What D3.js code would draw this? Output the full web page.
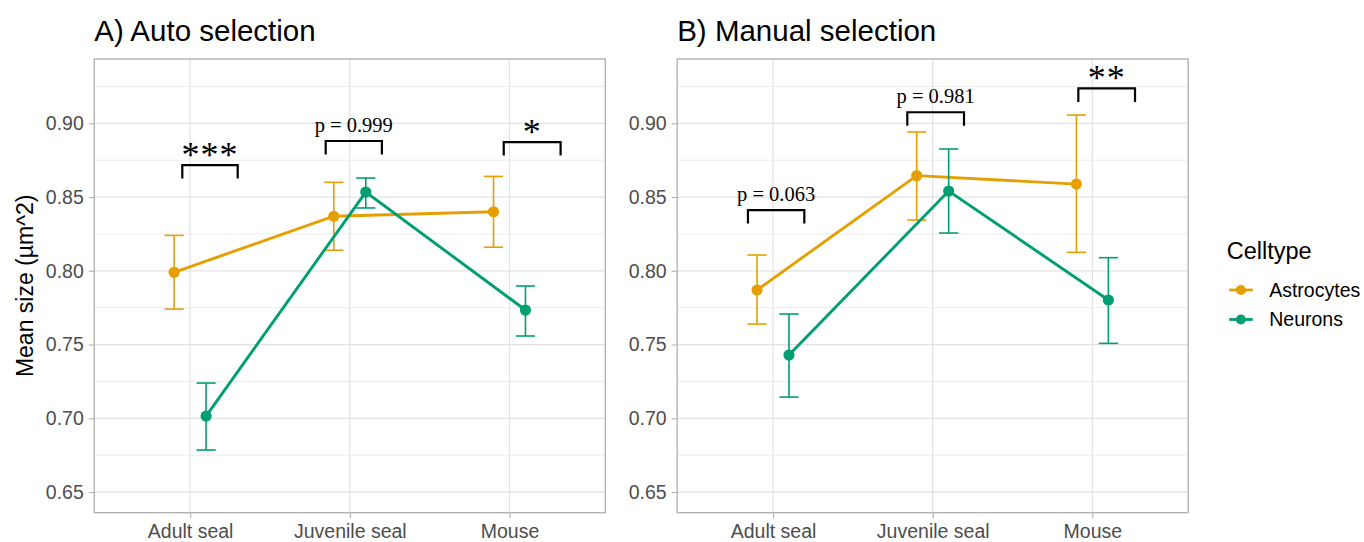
<!DOCTYPE html>
<html>
<head>
<meta charset="utf-8">
<script src="https://cdn.jsdelivr.net/npm/d3@7"></script>
<style>
  body { margin: 0; background: #fff; }
  svg text { font-family: "Liberation Sans", Arial, sans-serif; }
</style>
</head>
<body>
<div id="chart"></div>
<script>
const width = 1364;
const height = 542;

// data
const categories = ["Adult seal", "Juvenile seal", "Mouse"];
const cellTypes = ["Astrocytes", "Neurons"];
const yTicks = [0.65, 0.7, 0.75, 0.8, 0.85, 0.9];
const yMinorTicks = [0.675, 0.725, 0.775, 0.825, 0.875, 0.925];

const autoAstroMean = [0.799, 0.837, 0.840];
const autoAstroLow = [0.774, 0.814, 0.816];
const autoAstroHigh = [0.824, 0.860, 0.864];
const autoNeuronMean = [0.7015, 0.8534, 0.7734];
const autoNeuronLow = [0.6785, 0.8426, 0.7558];
const autoNeuronHigh = [0.7239, 0.8629, 0.7897];

const manualAstroMean = [0.787, 0.8645, 0.8588];
const manualAstroLow = [0.7639, 0.8344, 0.8125];
const manualAstroHigh = [0.8107, 0.8941, 0.9056];
const manualNeuronMean = [0.7429, 0.8541, 0.7802];
const manualNeuronLow = [0.7144, 0.8256, 0.7508];
const manualNeuronHigh = [0.7707, 0.8826, 0.8089];

const autoBracketStart = [0.951, 1.849, 2.964];
const autoBracketEnd = [1.298, 2.201, 3.32];
const autoBracketY = [0.8717, 0.888, 0.8873];
const autoBracketLabels = ["***", "p = 0.999", "*"];

const manualBracketStart = [0.843, 1.841, 2.912];
const manualBracketEnd = [1.196, 2.196, 3.267];
const manualBracketY = [0.8412, 0.9075, 0.9237];
const manualBracketLabels = ["p = 0.063", "p = 0.981", "**"];

const colors = d3.scaleOrdinal().domain(cellTypes).range(["#E69F00", "#009E73"]);

const svg = d3
  .select("#chart")
  .append("svg")
  .attr("width", width)
  .attr("height", height);

const y = d3.scaleLinear().domain([0.636, 0.9436]).range([512.7, 59]);

function drawPanel(left, title, series, brackets) {
  const x = d3.scaleLinear().domain([0.4, 3.6]).range([left, left + 511]);
  const g = svg.append("g");

  // grid
  g.selectAll(".minor")
    .data(yMinorTicks)
    .enter()
    .append("line")
    .attr("x1", x(0.4))
    .attr("x2", x(3.6))
    .attr("y1", (d) => y(d))
    .attr("y2", (d) => y(d))
    .attr("stroke", "#ececec")
    .attr("stroke-width", 1);

  g.selectAll(".major")
    .data(yTicks)
    .enter()
    .append("line")
    .attr("x1", x(0.4))
    .attr("x2", x(3.6))
    .attr("y1", (d) => y(d))
    .attr("y2", (d) => y(d))
    .attr("stroke", "#e2e2e2")
    .attr("stroke-width", 1.2);

  g.selectAll(".vgrid")
    .data(categories)
    .enter()
    .append("line")
    .attr("x1", (d, i) => x(i + 1))
    .attr("x2", (d, i) => x(i + 1))
    .attr("y1", y.range()[0])
    .attr("y2", y.range()[1])
    .attr("stroke", "#e2e2e2")
    .attr("stroke-width", 1.2);

  // axes
  const yAxis = g
    .append("g")
    .attr("transform", `translate(${x(0.4)},0)`)
    .call(d3.axisLeft(y).tickValues(yTicks).tickFormat(d3.format(".2f")).tickSize(5.5).tickPadding(5));
  const xAxis = g
    .append("g")
    .attr("transform", `translate(0,${y.range()[0]})`)
    .call(
      d3.axisBottom(x)
        .tickValues([1, 2, 3])
        .tickFormat((d) => categories[d - 1])
        .tickSize(5.5)
        .tickPadding(6)
    );
  [yAxis, xAxis].forEach((a) => {
    a.select(".domain").remove();
    a.selectAll(".tick line").attr("stroke", "#b3b3b3").attr("stroke-width", 1.1);
    a.selectAll(".tick text")
      .attr("fill", "#4d4d4d")
      .style("font-size", "19.5px")
      .style("font-family", "'Liberation Sans', Arial, sans-serif");
  });

  // border
  g.append("rect")
    .attr("x", x(0.4))
    .attr("y", y.range()[1])
    .attr("width", x(3.6) - x(0.4))
    .attr("height", y.range()[0] - y.range()[1])
    .attr("fill", "none")
    .attr("stroke", "#b3b3b3")
    .attr("stroke-width", 1.4);

  // title
  g.append("text")
    .attr("x", x(0.4))
    .attr("y", 40.5)
    .style("font-size", "29.5px")
    .attr("fill", "#000")
    .text(title);

  // series
  series.forEach((s, si) => {
    const offset = si === 0 ? -0.1 : 0.1;
    const c = colors(s.name);
    const pts = s.mean.map((m, i) => ({ x: i + 1 + offset, m: m, lo: s.low[i], hi: s.high[i] }));

    const eb = g.append("g").attr("stroke", c).attr("stroke-width", 1.6);
    pts.forEach((p) => {
      eb.append("line").attr("x1", x(p.x)).attr("x2", x(p.x)).attr("y1", y(p.lo)).attr("y2", y(p.hi));
      eb.append("line").attr("x1", x(p.x - 0.06)).attr("x2", x(p.x + 0.06)).attr("y1", y(p.lo)).attr("y2", y(p.lo));
      eb.append("line").attr("x1", x(p.x - 0.06)).attr("x2", x(p.x + 0.06)).attr("y1", y(p.hi)).attr("y2", y(p.hi));
    });

    g.append("path")
      .datum(pts)
      .attr("fill", "none")
      .attr("stroke", c)
      .attr("stroke-width", 2.9)
      .attr("d", d3.line().x((d) => x(d.x)).y((d) => y(d.m)));

    g.selectAll(null)
      .data(pts)
      .enter()
      .append("circle")
      .attr("cx", (d) => x(d.x))
      .attr("cy", (d) => y(d.m))
      .attr("r", 5.6)
      .attr("fill", c);
  });

  // significance brackets
  brackets.start.forEach((xs, i) => {
    const xe = brackets.end[i];
    const top = brackets.y[i];
    const tip = top - 0.0092;
    g.append("path")
      .attr("d", `M${x(xs)},${y(tip)}V${y(top)}H${x(xe)}V${y(tip)}`)
      .attr("fill", "none")
      .attr("stroke", "#000")
      .attr("stroke-width", 2.2);
    const label = brackets.labels[i];
    const stars = label.startsWith("*");
    g.append("text")
      .attr("x", (x(xs) + x(xe)) / 2)
      .attr("y", y(top) + (stars ? 1.5 : -9.5))
      .attr("text-anchor", "middle")
      .style("font-family", "'Liberation Serif', 'Times New Roman', serif")
      .style("font-size", stars ? "36px" : "20.5px")
      .style("letter-spacing", stars ? "1px" : null)
      .attr("fill", "#000")
      .text(label);
  });
}

drawPanel(
  94.3,
  "A) Auto selection",
  [
    { name: "Astrocytes", mean: autoAstroMean, low: autoAstroLow, high: autoAstroHigh },
    { name: "Neurons", mean: autoNeuronMean, low: autoNeuronLow, high: autoNeuronHigh },
  ],
  { start: autoBracketStart, end: autoBracketEnd, y: autoBracketY, labels: autoBracketLabels }
);

drawPanel(
  677.2,
  "B) Manual selection",
  [
    { name: "Astrocytes", mean: manualAstroMean, low: manualAstroLow, high: manualAstroHigh },
    { name: "Neurons", mean: manualNeuronMean, low: manualNeuronLow, high: manualNeuronHigh },
  ],
  { start: manualBracketStart, end: manualBracketEnd, y: manualBracketY, labels: manualBracketLabels }
);

// y axis title
svg
  .append("text")
  .attr("transform", `translate(33,${(y.range()[0] + y.range()[1]) / 2}) rotate(-90)`)
  .attr("text-anchor", "middle")
  .style("font-size", "23px")
  .attr("fill", "#000")
  .text("Mean size (µm^2)");

// legend
const legend = svg.append("g").attr("transform", "translate(1226.7,0)");
legend
  .append("text")
  .attr("x", 0)
  .attr("y", 259.3)
  .style("font-size", "23.5px")
  .attr("fill", "#000")
  .text("Celltype");

cellTypes.forEach((ct, i) => {
  const cy = 290 + i * 29.5;
  legend
    .append("line")
    .attr("x1", 2.5)
    .attr("x2", 26)
    .attr("y1", cy)
    .attr("y2", cy)
    .attr("stroke", colors(ct))
    .attr("stroke-width", 2.8);
  legend.append("circle").attr("cx", 14.2).attr("cy", cy).attr("r", 5).attr("fill", colors(ct));
  legend
    .append("text")
    .attr("x", 42.5)
    .attr("y", cy)
    .attr("dy", "0.35em")
    .style("font-size", "19.5px")
    .attr("fill", "#000")
    .text(ct);
});
</script>
</body>
</html>
